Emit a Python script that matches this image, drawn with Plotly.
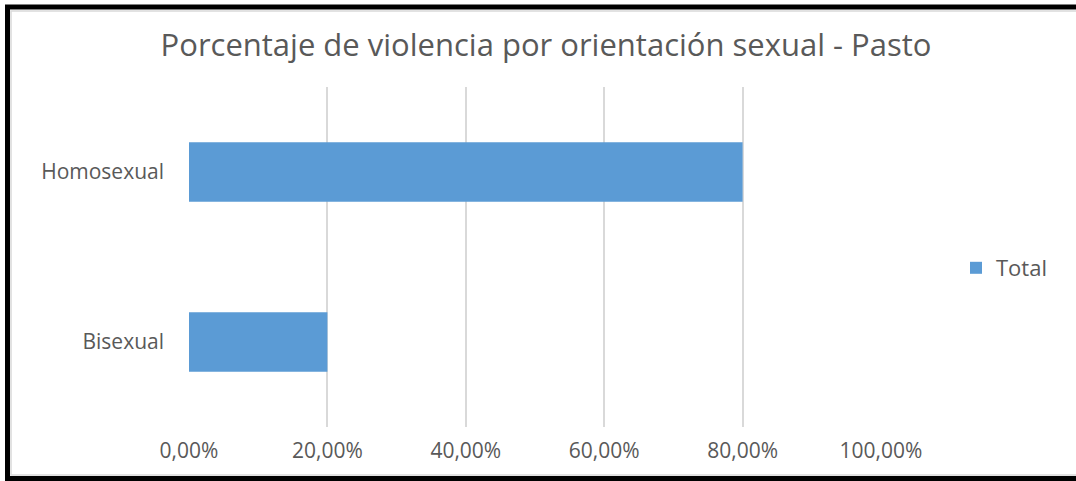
import plotly.graph_objects as go

categories = ["Bisexual", "Homosexual"]
values = [0.20, 0.80]
series_name = "Total"
x_ticks = [0, 0.2, 0.4, 0.6, 0.8, 1.0]
title_text = "Porcentaje de violencia por orientación sexual - Pasto"

W, H = 1076, 481
L, R, T, B = 189, 1076 - 881, 87, 481 - 427
pw, ph = W - L - R, H - T - B

def px(x):
    return (x - L) / pw

def py(y):
    return (H - B - y) / ph

fig = go.Figure()
fig.add_trace(go.Bar(
    y=categories, x=values, orientation="h", name=series_name,
    marker=dict(color="#5B9BD5", line=dict(width=0)), width=0.35,
))

font = "Open Sans, Segoe UI, sans-serif"
fig.update_layout(
    width=W, height=H,
    margin=dict(l=L, r=R, t=T, b=B),
    paper_bgcolor="white", plot_bgcolor="white",
    separators=",.",
    showlegend=True,
    title=dict(text=title_text, x=546 / W, xref="container", xanchor="center",
               y=1 - 45 / H, yanchor="middle",
               font=dict(family=font, size=31, color="#595959")),
    xaxis=dict(range=[0, 1.0], tickvals=x_ticks, tickformat=".2%",
               showgrid=True, gridcolor="#D9D9D9", gridwidth=2,
               zeroline=False, showline=False, ticks="",
               tickfont=dict(family=font, size=21, color="#595959"),
               ticklabelstandoff=9, fixedrange=True),
    yaxis=dict(showgrid=False, zeroline=False, showline=False, ticks="",
               tickfont=dict(family=font, size=21, color="#595959"),
               ticklabelstandoff=24, range=[-0.5, 1.5], fixedrange=True),
    legend=dict(x=px(956), y=py(268), xanchor="left", yanchor="middle",
                font=dict(family=font, size=22, color="#595959"),
                bgcolor="rgba(0,0,0,0)", itemwidth=30),
    shapes=[
        dict(type="rect", xref="paper", yref="paper",
             x0=px(11), x1=px(1300), y0=py(475), y1=py(11),
             line=dict(color="#D9D9D9", width=1.5), layer="below"),
        dict(type="rect", xref="paper", yref="paper",
             x0=px(7.5), x1=px(1300), y0=py(478.5), y1=py(7),
             line=dict(color="black", width=5), layer="above"),
    ],
)
fig.write_html("out.html",
               config={"displayModeBar": False},
               post_script="document.body.style.margin='0px';document.body.style.overflow='hidden';")
